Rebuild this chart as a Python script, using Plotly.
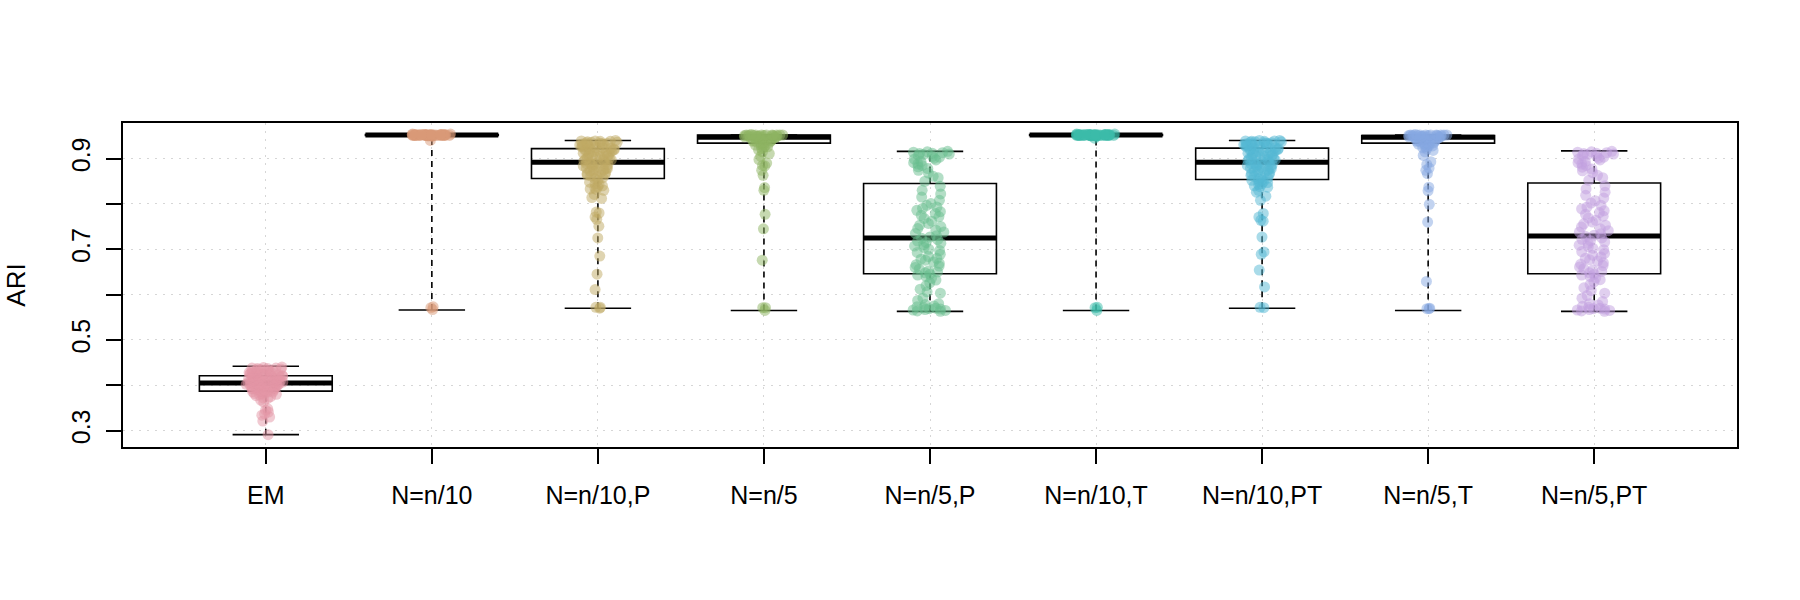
import plotly.graph_objects as go

categories = ["EM", "N=n/10", "N=n/10,P", "N=n/5", "N=n/5,P",
              "N=n/10,T", "N=n/10,PT", "N=n/5,T", "N=n/5,PT"]
colors = ["#E495A5", "#DA9A78", "#C0AA64", "#8DB462", "#68BD8D",
          "#3CBCA9", "#53B7D3", "#86A7E1", "#C29FDF"]

# box statistics
q1 = [0.387, 0.951, 0.856, 0.934, 0.646, 0.951, 0.854, 0.934, 0.646]
med = [0.405, 0.952, 0.892, 0.947, 0.725, 0.952, 0.892, 0.947, 0.729]
q3 = [0.421, 0.953, 0.922, 0.952, 0.845, 0.953, 0.923, 0.951, 0.846]
lo = [0.291, 0.566, 0.570, 0.565, 0.563, 0.565, 0.570, 0.565, 0.563]
hi = [0.442, 0.953, 0.940, 0.952, 0.916, 0.953, 0.940, 0.952, 0.917]

em = [0.291, 0.321, 0.330, 0.334, 0.337, 0.341, 0.345, 0.348, 0.363, 0.367, 0.371, 0.372, 0.375,
      0.377, 0.379, 0.380, 0.381, 0.382, 0.383, 0.384, 0.385, 0.385, 0.386, 0.386, 0.387,
      0.388, 0.389, 0.390, 0.391, 0.392, 0.393, 0.393, 0.394, 0.395, 0.396, 0.396, 0.397, 0.398,
      0.399, 0.399, 0.400, 0.401, 0.401, 0.402, 0.402, 0.403, 0.403, 0.404, 0.404, 0.405,
      0.405, 0.406, 0.406, 0.407, 0.408, 0.408, 0.409, 0.410, 0.410, 0.411, 0.412, 0.412, 0.413,
      0.414, 0.414, 0.415, 0.416, 0.416, 0.417, 0.418, 0.418, 0.419, 0.420, 0.420, 0.421,
      0.422, 0.423, 0.423, 0.424, 0.425, 0.425, 0.426, 0.427, 0.427, 0.428, 0.429, 0.429, 0.430,
      0.431, 0.432, 0.433, 0.434, 0.435, 0.436, 0.437, 0.437, 0.438, 0.438, 0.439, 0.440]

n10 = [0.567, 0.571, 0.573, 0.940,
       0.950, 0.951, 0.952, 0.953, 0.952, 0.951, 0.952, 0.953, 0.954, 0.952,
       0.951, 0.952, 0.950, 0.953, 0.952, 0.951, 0.952, 0.953, 0.952, 0.951,
       0.952, 0.950, 0.953, 0.952, 0.951, 0.952, 0.954, 0.952, 0.951, 0.953,
       0.952, 0.951, 0.952, 0.953, 0.950, 0.952, 0.951, 0.952, 0.953, 0.952,
       0.951, 0.952, 0.953, 0.952, 0.951, 0.952, 0.950, 0.953, 0.952, 0.951]

n10p = [0.570, 0.572, 0.572, 0.611, 0.645, 0.685, 0.725, 0.751, 0.766, 0.771, 0.780, 0.782, 0.812,
        0.814, 0.821, 0.830, 0.832, 0.833, 0.835, 0.838, 0.840, 0.843, 0.845, 0.848, 0.852,
        0.856, 0.858, 0.860, 0.862, 0.864, 0.865, 0.867, 0.869, 0.870, 0.872, 0.873, 0.875, 0.876,
        0.878, 0.879, 0.880, 0.882, 0.883, 0.884, 0.886, 0.887, 0.888, 0.889, 0.890, 0.891,
        0.892, 0.894, 0.895, 0.897, 0.898, 0.899, 0.901, 0.902, 0.903, 0.905, 0.906, 0.907, 0.908,
        0.910, 0.911, 0.912, 0.913, 0.914, 0.915, 0.916, 0.917, 0.918, 0.919, 0.920, 0.921,
        0.922, 0.923, 0.924, 0.925, 0.926, 0.927, 0.927, 0.928, 0.929, 0.930, 0.931, 0.931, 0.932,
        0.933, 0.934, 0.934, 0.935, 0.936, 0.936, 0.937, 0.938, 0.938, 0.939, 0.939, 0.940]

n5 = [0.565, 0.571, 0.571, 0.676, 0.745, 0.777, 0.830, 0.836, 0.863, 0.874, 0.884, 0.885, 0.890,
      0.898, 0.905, 0.911, 0.915, 0.919, 0.922, 0.925, 0.926, 0.928, 0.929, 0.930, 0.932,
      0.934, 0.935, 0.936, 0.937, 0.938, 0.939, 0.940, 0.941, 0.942, 0.943, 0.944, 0.945, 0.945,
      0.946, 0.946, 0.947, 0.947, 0.948, 0.948, 0.949, 0.949, 0.950, 0.950, 0.950, 0.951,
      0.951, 0.951, 0.951, 0.952, 0.952, 0.952, 0.952, 0.952, 0.952, 0.952, 0.952, 0.952, 0.953]

n5p = [0.563, 0.564, 0.565, 0.566, 0.567, 0.568, 0.569, 0.570, 0.571, 0.573, 0.575, 0.578, 0.580,
       0.587, 0.592, 0.603, 0.606, 0.612, 0.620, 0.626, 0.632, 0.636, 0.640, 0.643, 0.645,
       0.648, 0.650, 0.652, 0.656, 0.660, 0.663, 0.666, 0.669, 0.672, 0.676, 0.678, 0.680, 0.684,
       0.689, 0.693, 0.697, 0.700, 0.704, 0.707, 0.710, 0.713, 0.715, 0.718, 0.721, 0.724,
       0.727, 0.730, 0.735, 0.738, 0.742, 0.746, 0.750, 0.753, 0.757, 0.762, 0.768, 0.772, 0.775,
       0.779, 0.783, 0.786, 0.790, 0.793, 0.797, 0.801, 0.808, 0.815, 0.822, 0.830, 0.839,
       0.850, 0.858, 0.861, 0.868, 0.874, 0.878, 0.882, 0.885, 0.888, 0.891, 0.894, 0.897, 0.899,
       0.901, 0.903, 0.905, 0.907, 0.909, 0.910, 0.911, 0.912, 0.913, 0.914, 0.915, 0.916]

n10t = [0.565, 0.571, 0.572, 0.945,
        0.951, 0.952, 0.950, 0.953, 0.952, 0.951, 0.952, 0.953, 0.952, 0.954,
        0.951, 0.952, 0.950, 0.953, 0.952, 0.951, 0.952, 0.953, 0.952, 0.951,
        0.952, 0.950, 0.953, 0.952, 0.951, 0.952, 0.953, 0.952, 0.951, 0.953,
        0.952, 0.951, 0.952, 0.954, 0.950, 0.952, 0.951, 0.952, 0.953, 0.952,
        0.951, 0.952, 0.953, 0.952, 0.951, 0.952, 0.950, 0.953, 0.952, 0.951]

n10pt = [0.571, 0.572, 0.617, 0.654, 0.689, 0.694, 0.727, 0.762, 0.764, 0.771, 0.779, 0.808, 0.817,
         0.826, 0.830, 0.837, 0.838, 0.840, 0.843, 0.845, 0.847, 0.849, 0.850, 0.852, 0.853,
         0.855, 0.857, 0.859, 0.861, 0.863, 0.865, 0.867, 0.868, 0.870, 0.872, 0.873, 0.875, 0.876,
         0.878, 0.879, 0.881, 0.882, 0.883, 0.885, 0.886, 0.887, 0.888, 0.889, 0.890, 0.891,
         0.893, 0.894, 0.896, 0.897, 0.898, 0.900, 0.901, 0.902, 0.904, 0.905, 0.906, 0.907, 0.909,
         0.910, 0.911, 0.912, 0.913, 0.914, 0.915, 0.917, 0.918, 0.919, 0.920, 0.921, 0.922,
         0.923, 0.924, 0.925, 0.926, 0.927, 0.928, 0.928, 0.929, 0.930, 0.931, 0.932, 0.932, 0.933,
         0.934, 0.935, 0.935, 0.936, 0.937, 0.937, 0.938, 0.938, 0.939, 0.939, 0.940, 0.940]

n5t = [0.569, 0.569, 0.570, 0.629, 0.760, 0.799, 0.829, 0.837, 0.867, 0.874, 0.879, 0.887, 0.893,
       0.907, 0.915, 0.918, 0.921, 0.924, 0.926, 0.927, 0.928, 0.930, 0.931, 0.932, 0.933,
       0.934, 0.935, 0.936, 0.937, 0.938, 0.939, 0.940, 0.941, 0.942, 0.943, 0.944, 0.945, 0.945,
       0.946, 0.946, 0.947, 0.947, 0.948, 0.948, 0.949, 0.949, 0.950, 0.950, 0.950, 0.951,
       0.951, 0.951, 0.951, 0.952, 0.952, 0.952, 0.952, 0.952, 0.952, 0.952, 0.952, 0.952, 0.953]

n5pt = [0.563, 0.564, 0.565, 0.566, 0.567, 0.568, 0.569, 0.570, 0.572, 0.574, 0.577, 0.580, 0.585,
        0.592, 0.598, 0.603, 0.609, 0.615, 0.622, 0.628, 0.633, 0.637, 0.640, 0.643, 0.645,
        0.648, 0.651, 0.654, 0.657, 0.661, 0.664, 0.667, 0.670, 0.674, 0.677, 0.680, 0.683, 0.687,
        0.691, 0.695, 0.699, 0.702, 0.706, 0.709, 0.713, 0.716, 0.719, 0.722, 0.725, 0.728,
        0.731, 0.734, 0.738, 0.741, 0.745, 0.749, 0.753, 0.756, 0.760, 0.764, 0.769, 0.773, 0.777,
        0.781, 0.785, 0.789, 0.793, 0.797, 0.802, 0.807, 0.813, 0.819, 0.826, 0.833, 0.840,
        0.852, 0.858, 0.863, 0.869, 0.873, 0.877, 0.881, 0.885, 0.888, 0.891, 0.894, 0.897, 0.899,
        0.901, 0.903, 0.905, 0.907, 0.909, 0.910, 0.911, 0.912, 0.913, 0.914, 0.915, 0.916]

point_sets = [em, n10, n10p, n5, n5p, n10t, n10pt, n5t, n5pt]

positions = list(range(1, len(categories) + 1))
BOX_W = 0.8
CAP_W = 0.4


def rgba(hex_color, a):
    h = hex_color.lstrip("#")
    r, g, b = int(h[0:2], 16), int(h[2:4], 16), int(h[4:6], 16)
    return f"rgba({r},{g},{b},{a})"


fig = go.Figure()

shapes = []
for i, p in enumerate(positions):
    # whiskers (dashed)
    for y0, y1 in ((q3[i], hi[i]), (lo[i], q1[i])):
        if y1 > y0:
            shapes.append(dict(type="line", xref="x", yref="y", x0=p, x1=p, y0=y0, y1=y1,
                               line=dict(color="black", width=1.6, dash="6px,5px"), layer="between"))
    # caps
    for yv in (lo[i], hi[i]):
        shapes.append(dict(type="line", xref="x", yref="y", x0=p - CAP_W / 2, x1=p + CAP_W / 2,
                           y0=yv, y1=yv, line=dict(color="black", width=1.6), layer="between"))
    # box
    shapes.append(dict(type="rect", xref="x", yref="y", x0=p - BOX_W / 2, x1=p + BOX_W / 2,
                       y0=q1[i], y1=q3[i], line=dict(color="black", width=1.6),
                       fillcolor="rgba(0,0,0,0)", layer="between"))
    # median
    shapes.append(dict(type="line", xref="x", yref="y", x0=p - BOX_W / 2, x1=p + BOX_W / 2,
                       y0=med[i], y1=med[i], line=dict(color="black", width=5), layer="between"))

for i, p in enumerate(positions):
    vals = point_sets[i]
    fig.add_trace(go.Box(
        x=[p] * len(vals), y=vals, boxpoints="all", jitter=0.3, pointpos=0,
        width=BOX_W, line=dict(color="rgba(0,0,0,0)", width=0), fillcolor="rgba(0,0,0,0)",
        marker=dict(color=rgba(colors[i], 0.5), size=11, line=dict(width=0)),
        hoverinfo="skip", showlegend=False, name=categories[i]))

FONT = "Liberation Sans, Arial, sans-serif"
fig.update_layout(
    width=1800, height=600,
    margin=dict(l=123, r=63, t=123, b=153),
    paper_bgcolor="white", plot_bgcolor="white",
    boxmode="overlay",
    shapes=shapes,
    font=dict(family=FONT, size=25, color="black"),
    xaxis=dict(
        range=[0.14, 9.86], tickmode="array", tickvals=positions, ticktext=categories,
        showgrid=True, gridcolor="#d6d6d6", gridwidth=1, griddash="2px,6px",
        showline=True, mirror=True, linecolor="black", linewidth=2,
        ticks="outside", ticklen=15, tickwidth=1.5, tickcolor="black",
        ticklabelstandoff=10, tickfont=dict(size=25), zeroline=False),
    yaxis=dict(
        range=[0.2638, 0.9785], tickmode="array",
        tickvals=[0.3, 0.4, 0.5, 0.6, 0.7, 0.8, 0.9],
        ticktext=["0.3", "", "0.5", "", "0.7", "", "0.9"],
        tickangle=-90,
        showgrid=True, gridcolor="#d6d6d6", gridwidth=1, griddash="2px,6px",
        showline=True, mirror=True, linecolor="black", linewidth=2,
        ticks="outside", ticklen=15, tickwidth=1.5, tickcolor="black",
        ticklabelstandoff=6, tickfont=dict(size=25), zeroline=False,
        title=dict(text="ARI", font=dict(size=26), standoff=34)),
)

fig.write_html("out.html")
